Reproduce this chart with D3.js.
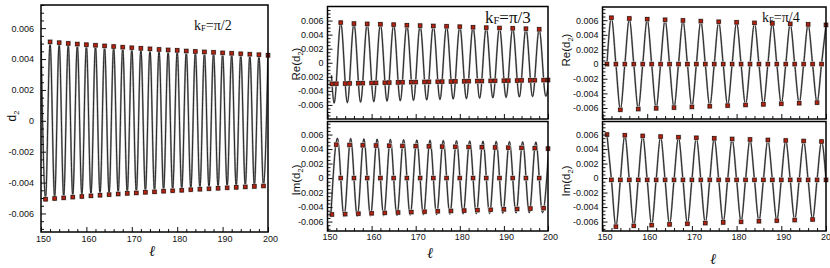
<!DOCTYPE html>
<html><head><meta charset="utf-8">
<script src="https://cdn.jsdelivr.net/npm/d3@7"></script>
<style>
body{margin:0;background:#fff;}
svg{display:block;}
text{font-family:"Liberation Sans",Arial,Helvetica,sans-serif;fill:#111;}
</style></head><body>
<svg id="c" width="830" height="268"></svg>
<script>
// ---------- axis ticks ----------
const xTickValues = [150,160,170,180,190,200];
const xTickLabels = ["150","160","170","180","190","200"];
const yTickValues = [-0.006,-0.004,-0.002,0,0.002,0.004,0.006];
const yTickLabels = ["-0.006","-0.004","-0.002","0","0.002","0.004","0.006"];

// ---------- panel A : kF = pi/2, d2 ----------
const halfTopL = [152,154,156,158,160,162,164,166,168,170,172,174,176,178,180,182,184,186,188,190,192,194,196,198,200];
const halfTopV = [0.00511,0.00506,0.00501,0.00497,0.00493,0.00489,0.00485,0.00481,0.00477,0.00473,0.00469,0.00466,0.00462,0.00459,0.00456,0.00452,0.00449,0.00446,0.00443,0.00440,0.00437,0.00434,0.00431,0.00428,0.00424];
const halfBotL = [151,153,155,157,159,161,163,165,167,169,171,173,175,177,179,181,183,185,187,189,191,193,195,197,199];
const halfBotV = [-0.00508,-0.00503,-0.00499,-0.00494,-0.00490,-0.00486,-0.00482,-0.00478,-0.00474,-0.00470,-0.00467,-0.00463,-0.00460,-0.00456,-0.00453,-0.00450,-0.00446,-0.00443,-0.00440,-0.00437,-0.00434,-0.00431,-0.00428,-0.00425,-0.00422];
const halfStartL = [150];
const halfStartV = [0.00514];

// ---------- panel B : kF = pi/3, Re(d2) ----------
const thirdReTopL = [153,156,159,162,165,168,171,174,177,180,183,186,189,192,195,198];
const thirdReTopV = [0.00571,0.00557,0.00552,0.00547,0.00542,0.00533,0.00528,0.00523,0.00518,0.00513,0.00504,0.00499,0.00494,0.00489,0.00484,0.00475];
const thirdReBotL = [151,152,154,155,157,158,160,161,163,164,166,167,169,170,172,173,175,176,178,179,181,182,184,185,187,188,190,191,193,194,196,197,199,200];
const thirdReBotV = [-0.00300,-0.00298,-0.00296,-0.00294,-0.00292,-0.00290,-0.00288,-0.00286,-0.00284,-0.00282,-0.00280,-0.00278,-0.00276,-0.00275,-0.00273,-0.00271,-0.00270,-0.00268,-0.00267,-0.00265,-0.00264,-0.00262,-0.00261,-0.00260,-0.00258,-0.00257,-0.00255,-0.00254,-0.00253,-0.00251,-0.00250,-0.00249,-0.00247,-0.00246];
const thirdReTroughL = [151.5,154.5,157.5,160.5,163.5,166.5,169.5,172.5,175.5,178.5,181.5,184.5,187.5,190.5,193.5,196.5,199.5];
const thirdReTroughV = [-0.00575,-0.00568,-0.00561,-0.00554,-0.00547,-0.00541,-0.00535,-0.00529,-0.00523,-0.00517,-0.00511,-0.00505,-0.00499,-0.00493,-0.00487,-0.00481,-0.00476];
const thirdReEdgeL = [150.9,201];
const thirdReEdgeV = [-0.0018,0.00470];

// ---------- panel C : kF = pi/3, Im(d2) ----------
const thirdImTopL = [152,155,158,161,164,167,170,173,176,179,182,185,188,191,194,197,200];
const thirdImTopV = [0.00460,0.00456,0.00452,0.00449,0.00446,0.00443,0.00440,0.00437,0.00434,0.00431,0.00428,0.00425,0.00422,0.00419,0.00416,0.00412,0.00406];
const thirdImZeroL = [153,156,159,162,165,168,171,174,177,180,183,186,189,192,195,198];
const thirdImZeroV = [0,0,0,0,0,0,0,0,0,0,0,0,0,0,0,0];
const thirdImBotL = [151,154,157,160,163,166,169,172,175,178,181,184,187,190,193,196,199];
const thirdImBotV = [-0.00502,-0.00497,-0.00491,-0.00486,-0.00480,-0.00475,-0.00469,-0.00464,-0.00458,-0.00453,-0.00448,-0.00442,-0.00437,-0.00431,-0.00426,-0.00420,-0.00415];
const thirdImPeakL = [152.25,155.25,158.25,161.25,164.25,167.25,170.25,173.25,176.25,179.25,182.25,185.25,188.25,191.25,194.25,197.25,200.25];
const thirdImPeakV = [0.00550,0.00545,0.00541,0.00537,0.00533,0.00529,0.00525,0.00521,0.00518,0.00515,0.00512,0.00509,0.00506,0.00503,0.00500,0.00497,0.00494];
const thirdImTroughL = [150.75,153.75,156.75,159.75,162.75,165.75,168.75,171.75,174.75,177.75,180.75,183.75,186.75,189.75,192.75,195.75,198.75];
const thirdImTroughV = [-0.00535,-0.00531,-0.00527,-0.00523,-0.00519,-0.00515,-0.00511,-0.00507,-0.00503,-0.00499,-0.00495,-0.00491,-0.00488,-0.00485,-0.00482,-0.00479,-0.00476];

// ---------- panel D : kF = pi/4, Re(d2) ----------
const quarReTopL = [152,156,160,164,168,172,176,180,184,188,192,196,200];
const quarReTopV = [0.00633,0.00623,0.00614,0.00605,0.00596,0.00587,0.00578,0.00570,0.00563,0.00556,0.00549,0.00542,0.00535];
const quarReBotL = [154,158,162,166,170,174,178,182,186,190,194,198];
const quarReBotV = [-0.00625,-0.00614,-0.00604,-0.00594,-0.00585,-0.00576,-0.00567,-0.00558,-0.00550,-0.00542,-0.00534,-0.00526];
const quarReZeroL = [151,153,155,157,159,161,163,165,167,169,171,173,175,177,179,181,183,185,187,189,191,193,195,197,199];
const quarReZeroV = [0,0,0,0,0,0,0,0,0,0,0,0,0,0,0,0,0,0,0,0,0,0,0,0,0];

// ---------- panel E : kF = pi/4, Im(d2) ----------
const quarImTopL = [151,155,159,163,167,171,175,179,183,187,191,195,199];
const quarImTopV = [0.00600,0.00590,0.00581,0.00572,0.00563,0.00555,0.00547,0.00539,0.00532,0.00525,0.00518,0.00511,0.00504];
const quarImBotL = [153,157,161,165,169,173,177,181,185,189,193,197];
const quarImBotV = [-0.00670,-0.00659,-0.00649,-0.00639,-0.00630,-0.00621,-0.00612,-0.00603,-0.00595,-0.00587,-0.00579,-0.00571];
const quarImZeroL = [152,154,156,158,160,162,164,166,168,170,172,174,176,178,180,182,184,186,188,190,192,194,196,198,200];
const quarImZeroV = [-0.00025,-0.00025,-0.00025,-0.00025,-0.00025,-0.00025,-0.00025,-0.00025,-0.00025,-0.00025,-0.00025,-0.00025,-0.00025,-0.00025,-0.00025,-0.00025,-0.00025,-0.00025,-0.00025,-0.00025,-0.00025,-0.00025,-0.00025,-0.00025,-0.00025];

// ---------- helpers ----------
const zip = (L,V) => L.map((l,i)=>[l,V[i]]);
const merge = (...sets) => sets.flat().sort((a,b)=>a[0]-b[0]);

const panels = [
  {id:"A", x0:41, x1:268, y0:5, y1:232, ydom:[-0.0072,0.0075], xlab:true, ypad:7, xpad:4,
   curve: merge(zip(halfStartL,halfStartV), zip(halfTopL,halfTopV), zip(halfBotL,halfBotV)),
   marks: merge(zip(halfTopL,halfTopV), zip(halfBotL,halfBotV)),
   title:{x:194,y:30,fs:14,t:"=π/2"}, ylab:{x:12,y:116}, ell:{x:152,y:251}},
  {id:"B", x0:327.5, x1:548, y0:6.5, y1:119, ydom:[-0.008,0.008], xlab:false, ypad:4, xpad:3,
   curve: merge(zip(thirdReEdgeL,thirdReEdgeV), zip(thirdReTopL,thirdReTopV), zip(thirdReTroughL,thirdReTroughV)),
   marks: merge(zip(thirdReTopL,thirdReTopV), zip(thirdReBotL,thirdReBotV)),
   title:{x:485,y:23,fs:17,t:"=π/3"}, ylab:{x:296,y:64,pre:"Re("}},
  {id:"C", x0:327.5, x1:548, y0:121.5, y1:231, ydom:[-0.0073,0.0078], xlab:true, ypad:4, xpad:3,
   curve: merge(zip(thirdImPeakL,thirdImPeakV), zip(thirdImTroughL,thirdImTroughV)),
   marks: merge(zip(thirdImTopL,thirdImTopV), zip(thirdImZeroL,thirdImZeroV), zip(thirdImBotL,thirdImBotV)),
   ylab:{x:296,y:180,pre:"Im("}, ell:{x:430,y:253}},
  {id:"D", x0:602.5, x1:826, y0:7, y1:119, ydom:[-0.0075,0.0078], xlab:false, ypad:4, xpad:3,
   curve: merge(zip(quarReTopL,quarReTopV), zip(quarReBotL,quarReBotV), zip(quarReZeroL,quarReZeroV)),
   marks: merge(zip(quarReTopL,quarReTopV), zip(quarReBotL,quarReBotV), zip(quarReZeroL,quarReZeroV)),
   title:{x:762,y:22,fs:14,t:"=π/4"}, ylab:{x:566,y:50,pre:"Re("}},
  {id:"E", x0:602.5, x1:826, y0:121.5, y1:231, ydom:[-0.0073,0.0078], xlab:true, ypad:4, xpad:3,
   curve: merge(zip(quarImTopL,quarImTopV), zip(quarImBotL,quarImBotV), zip(quarImZeroL,quarImZeroV)),
   marks: merge(zip(quarImTopL,quarImTopV), zip(quarImBotL,quarImBotV), zip(quarImZeroL,quarImZeroV)),
   ylab:{x:566,y:181,pre:"Im("}, ell:{x:713,y:259}}
];

const svg = d3.select("#c");
const defs = svg.append("defs");

panels.forEach(p=>{
  const x = d3.scaleLinear().domain([150,200]).range([p.x0,p.x1]);
  const y = d3.scaleLinear().domain(p.ydom).range([p.y1,p.y0]);
  const g = svg.append("g");

  defs.append("clipPath").attr("id","clip"+p.id).append("rect")
    .attr("x",p.x0).attr("y",p.y0).attr("width",p.x1-p.x0).attr("height",p.y1-p.y0);

  // curve
  const line = d3.line().x(d=>x(d[0])).y(d=>y(d[1])).curve(d3.curveMonotoneX);
  const cg = g.append("g").attr("clip-path","url(#clip"+p.id+")");
  cg.append("path").datum(p.curve).attr("d",line).attr("fill","none")
    .attr("stroke","#a0a0a0").attr("stroke-width",1.9);
  cg.append("path").datum(p.curve).attr("d",line).attr("fill","none")
    .attr("stroke","#111").attr("stroke-width",0.85);

  // markers
  const mg = g.append("g");
  mg.selectAll("rect.h").data(p.marks).join("rect").attr("class","h")
    .attr("x",d=>x(d[0])-2.7).attr("y",d=>y(d[1])-2.7).attr("width",5.4).attr("height",5.4)
    .attr("fill","#d0d0d0");
  mg.selectAll("rect.m").data(p.marks).join("rect").attr("class","m")
    .attr("x",d=>x(d[0])-1.8).attr("y",d=>y(d[1])-1.8).attr("width",3.6).attr("height",3.6)
    .attr("fill","#b5220f").attr("stroke","#2a0804").attr("stroke-width",0.7);

  // y axis major / minor
  const yMinor = [];
  for(let i=Math.ceil(p.ydom[0]*2000); i<=Math.floor(p.ydom[1]*2000); i++){ if(i%4!==0) yMinor.push(i/2000); }
  const ya = g.append("g").attr("transform",`translate(${p.x0},0)`)
    .call(d3.axisLeft(y).tickValues(yTickValues).tickFormat((d,i)=>yTickLabels[i]).tickSize(-5).tickPadding(p.ypad));
  ya.append("g").call(d3.axisLeft(y).tickValues(yMinor).tickFormat("").tickSize(-3));
  ya.selectAll(".domain").remove();
  ya.selectAll("line").attr("stroke","#111").attr("stroke-width",1);
  ya.selectAll("text").attr("font-size",9).attr("fill","#222")
    .style("font-family","'Liberation Sans',Arial,sans-serif");

  // x axis major / minor
  const xMinor = [];
  for(let v=152; v<200; v+=2){ if(v%10!==0) xMinor.push(v); }
  const xa = g.append("g").attr("transform",`translate(0,${p.y1})`)
    .call(d3.axisBottom(x).tickValues(xTickValues).tickFormat((d,i)=>p.xlab?xTickLabels[i]:"").tickSize(-5).tickPadding(p.xpad));
  xa.append("g").call(d3.axisBottom(x).tickValues(xMinor).tickFormat("").tickSize(-3));
  xa.selectAll(".domain").remove();
  xa.selectAll("line").attr("stroke","#111").attr("stroke-width",1);
  xa.selectAll("text").attr("font-size",9).attr("fill","#222").attr("dx",2)
    .style("font-family","'Liberation Sans',Arial,sans-serif");

  // frame
  g.append("rect").attr("x",p.x0).attr("y",p.y0).attr("width",p.x1-p.x0).attr("height",p.y1-p.y0)
    .attr("fill","none").attr("stroke","#000").attr("stroke-width",1.5);

  // title
  if(p.title){
    const t = g.append("text").attr("x",p.title.x).attr("y",p.title.y)
      .style("font-family","'Liberation Serif','Times New Roman',serif").attr("font-size",p.title.fs);
    t.append("tspan").text("k");
    t.append("tspan").attr("font-size",p.title.fs*0.62).attr("dy",1).text("F");
    t.append("tspan").attr("dy",-1).text(p.title.t);
  }
  // y label
  const yl = g.append("text").attr("transform",`translate(${p.ylab.x},${p.ylab.y}) rotate(-90)`)
    .attr("text-anchor","middle").attr("dy","0.35em").attr("font-size",p.id==="A"?12:11.5);
  if(p.ylab.pre) yl.append("tspan").text(p.ylab.pre);
  yl.append("tspan").text("d");
  yl.append("tspan").attr("font-size",7.5).attr("dy",2.5).text("2");
  if(p.ylab.pre) yl.append("tspan").attr("dy",-2.5).text(")");
  // x label
  if(p.ell){
    g.append("text").attr("x",p.ell.x).attr("y",p.ell.y).attr("dy","0.35em").attr("text-anchor","middle")
      .style("font-family","'DejaVu Serif','Liberation Serif',serif").style("font-style","italic")
      .attr("font-size",15).text("ℓ");
  }
});
</script>
</body></html>
